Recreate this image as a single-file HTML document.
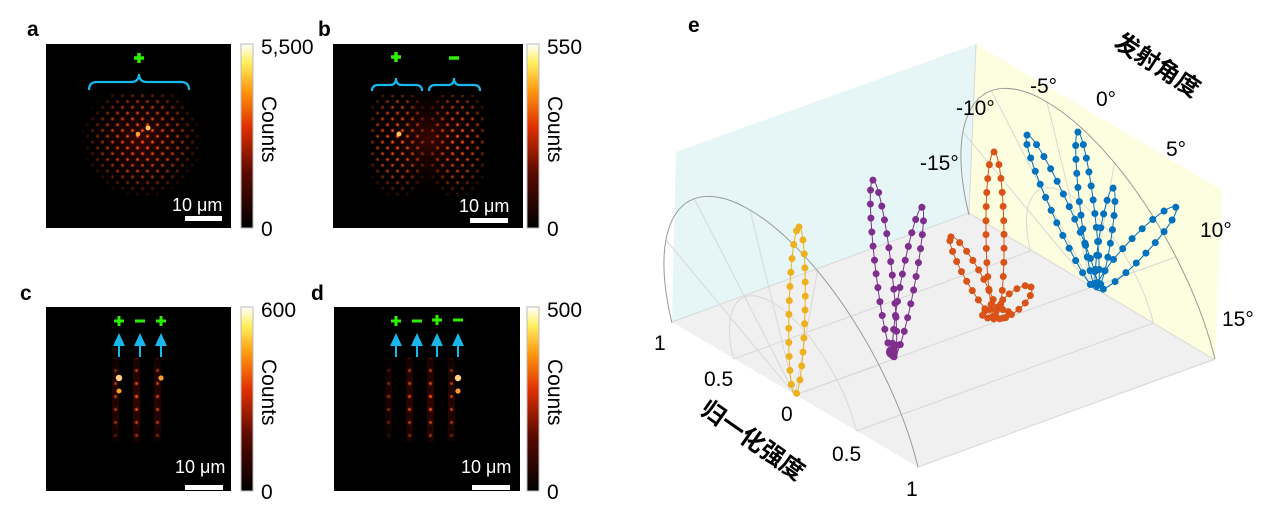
<!DOCTYPE html>
<html><head><meta charset="utf-8"><style>
html,body{margin:0;padding:0;background:#fff;}
svg{display:block;}
text{font-family:"Liberation Sans","Noto Sans CJK SC",sans-serif;}
</style></head><body>
<svg width="1269" height="524" viewBox="0 0 1269 524" xmlns="http://www.w3.org/2000/svg">
<defs>
  <linearGradient id="cb" x1="0" y1="1" x2="0" y2="0">
    <stop offset="0" stop-color="#000"/>
    <stop offset="0.3" stop-color="#5a0a00"/>
    <stop offset="0.55" stop-color="#e03000"/>
    <stop offset="0.75" stop-color="#ff9a10"/>
    <stop offset="0.9" stop-color="#fff060"/>
    <stop offset="1" stop-color="#fff"/>
  </linearGradient>
  <radialGradient id="dot"><stop offset="0" stop-color="#ff9028"/><stop offset="0.5" stop-color="#c83008"/><stop offset="1" stop-color="#300" stop-opacity="0"/></radialGradient>
  <radialGradient id="glow"><stop offset="0" stop-color="#3a0600"/><stop offset="1" stop-color="#000" stop-opacity="0"/></radialGradient>
  <pattern id="hex" width="10" height="11.6" patternUnits="userSpaceOnUse">
    <circle cx="2.5" cy="2.9" r="2.6" fill="url(#dot)"/>
    <circle cx="7.5" cy="8.7" r="2.6" fill="url(#dot)"/>
  </pattern>
  <pattern id="col" width="21" height="13" patternUnits="userSpaceOnUse">
    <rect x="7" y="0" width="7" height="13" fill="#300500"/>
    <circle cx="10.5" cy="6.5" r="2.8" fill="url(#dot)"/>
  </pattern>
  <radialGradient id="fade"><stop offset="0" stop-color="#fff"/><stop offset="0.6" stop-color="#999"/><stop offset="1" stop-color="#000"/></radialGradient>
  <mask id="ma" maskContentUnits="userSpaceOnUse"><ellipse cx="142" cy="140" rx="62" ry="60" fill="url(#fade)"/></mask>
  <mask id="mb1" maskContentUnits="userSpaceOnUse"><ellipse cx="398" cy="140" rx="36" ry="62" fill="url(#fade)"/></mask>
  <mask id="mb2" maskContentUnits="userSpaceOnUse"><ellipse cx="457" cy="140" rx="36" ry="62" fill="url(#fade)"/></mask>
  <mask id="mc" maskContentUnits="userSpaceOnUse"><ellipse cx="140" cy="400" rx="50" ry="58" fill="url(#fade)"/></mask>
  <mask id="md" maskContentUnits="userSpaceOnUse"><ellipse cx="427" cy="400" rx="60" ry="58" fill="url(#fade)"/></mask>
</defs>

<!-- Panel a -->
<text x="27" y="36" font-size="21" font-weight="bold">a</text>
<rect x="46" y="44" width="185" height="184" fill="#000"/>
<ellipse cx="142" cy="140" rx="65" ry="60" fill="url(#glow)"/>
<rect x="80" y="92" width="125" height="112" fill="url(#hex)" mask="url(#ma)"/>
<circle cx="148" cy="128" r="2.5" fill="#ffc060"/><circle cx="138" cy="134" r="2.3" fill="#ffa040"/>
<path d="M89,90 q0,-8 8,-8 h34 q8,0 8,-8 q0,8 8,8 h34 q8,0 8,8" fill="none" stroke="#1ab8ea" stroke-width="2.2"/>
<path d="M139,53 v10 M134,58 h10" stroke="#2cf000" stroke-width="3.5"/>
<rect x="185" y="216" width="37" height="5" fill="#fff"/>
<text x="172" y="211" font-size="18" fill="#fff">10 μm</text>
<rect x="241" y="44" width="12" height="184" fill="url(#cb)" stroke="#bbb" stroke-width="1"/>
<text x="261" y="54" font-size="21">5,500</text>
<text x="261" y="236" font-size="21">0</text>
<text x="0" y="0" font-size="21" transform="translate(262,96) rotate(90)">Counts</text>

<!-- Panel b -->
<text x="318" y="36" font-size="21" font-weight="bold">b</text>
<rect x="333" y="44" width="190" height="184" fill="#000"/>
<ellipse cx="428" cy="140" rx="65" ry="62" fill="url(#glow)"/>
<rect x="370" y="95" width="55" height="108" fill="url(#hex)" mask="url(#mb1)"/>
<rect x="430" y="95" width="55" height="108" fill="url(#hex)" mask="url(#mb2)"/>
<circle cx="399" cy="134" r="2.5" fill="#ffc060"/>
<path d="M372,91 q0,-6 6,-6 h12 q6,0 6,-7 q0,7 6,7 h14 q6,0 6,6" fill="none" stroke="#1ab8ea" stroke-width="2.2"/>
<path d="M429,91 q0,-6 6,-6 h13 q6,0 6,-7 q0,7 6,7 h14 q6,0 6,6" fill="none" stroke="#1ab8ea" stroke-width="2.2"/>
<path d="M396,52 v10 M391,57 h10" stroke="#2cf000" stroke-width="3.5"/>
<path d="M449,58 h10" stroke="#2cf000" stroke-width="3.5"/>
<rect x="470" y="218" width="38" height="5" fill="#fff"/>
<text x="459" y="212" font-size="18" fill="#fff">10 μm</text>
<rect x="527" y="44" width="12" height="184" fill="url(#cb)" stroke="#bbb" stroke-width="1"/>
<text x="547" y="54" font-size="21">550</text>
<text x="547" y="236" font-size="21">0</text>
<text x="0" y="0" font-size="21" transform="translate(548,96) rotate(90)">Counts</text>

<!-- Panel c -->
<text x="20" y="300" font-size="21" font-weight="bold">c</text>
<rect x="46" y="307" width="185" height="184" fill="#000"/>
<rect x="108" y="358" width="63" height="84" fill="url(#col)" mask="url(#mc)"/>
<circle cx="119" cy="378" r="3.2" fill="#ffd080"/><circle cx="161" cy="378" r="2.6" fill="#ff9a30"/><circle cx="119" cy="391" r="2.5" fill="#ff9a30"/>
<path d="M114,321 h10 M119,316 v10" stroke="#2cf000" stroke-width="3"/>
<path d="M135,321 h10" stroke="#2cf000" stroke-width="3"/>
<path d="M156,321 h10 M161,316 v10" stroke="#2cf000" stroke-width="3"/>
<g fill="#1ab8ea" stroke="#1ab8ea">
<path d="M119,357 v-14" stroke-width="2"/><path d="M113,346 L119,333 L125,346 z" stroke="none"/>
<path d="M140,357 v-14" stroke-width="2"/><path d="M134,346 L140,333 L146,346 z" stroke="none"/>
<path d="M161,357 v-14" stroke-width="2"/><path d="M155,346 L161,333 L167,346 z" stroke="none"/>
</g>
<rect x="185" y="485" width="38" height="5" fill="#fff"/>
<text x="175" y="473" font-size="18" fill="#fff">10 μm</text>
<rect x="241" y="307" width="12" height="184" fill="url(#cb)" stroke="#bbb" stroke-width="1"/>
<text x="261" y="317" font-size="21">600</text>
<text x="261" y="499" font-size="21">0</text>
<text x="0" y="0" font-size="21" transform="translate(262,359) rotate(90)">Counts</text>

<!-- Panel d -->
<text x="311" y="300" font-size="21" font-weight="bold">d</text>
<rect x="334" y="307" width="186" height="184" fill="#000"/>
<rect x="385" y="358" width="84" height="84" fill="url(#col)" mask="url(#md)"/>
<circle cx="458" cy="378" r="3.2" fill="#ffd080"/><circle cx="458" cy="391" r="2.6" fill="#ff9a30"/>
<path d="M391,321 h10 M396,316 v10" stroke="#2cf000" stroke-width="3"/>
<path d="M412,321 h10" stroke="#2cf000" stroke-width="3"/>
<path d="M432,320 h10 M437,315 v10" stroke="#2cf000" stroke-width="3"/>
<path d="M453,320 h10" stroke="#2cf000" stroke-width="3"/>
<g fill="#1ab8ea" stroke="#1ab8ea">
<path d="M396,357 v-14" stroke-width="2"/><path d="M390,346 L396,333 L402,346 z" stroke="none"/>
<path d="M417,357 v-14" stroke-width="2"/><path d="M411,346 L417,333 L423,346 z" stroke="none"/>
<path d="M437,357 v-14" stroke-width="2"/><path d="M431,346 L437,333 L443,346 z" stroke="none"/>
<path d="M458,357 v-14" stroke-width="2"/><path d="M452,346 L458,333 L464,346 z" stroke="none"/>
</g>
<rect x="472" y="485" width="38" height="5" fill="#fff"/>
<text x="461" y="473" font-size="18" fill="#fff">10 μm</text>
<rect x="527" y="307" width="12" height="184" fill="url(#cb)" stroke="#bbb" stroke-width="1"/>
<text x="547" y="317" font-size="21">500</text>
<text x="547" y="499" font-size="21">0</text>
<text x="0" y="0" font-size="21" transform="translate(548,359) rotate(90)">Counts</text>

<!-- Panel e -->
<text x="688" y="32" font-size="21" font-weight="bold">e</text>
<polygon points="676,152 976,44 969,213 672,322" fill="#e6f6f6"/>
<polygon points="976,44 1222,190 1215,360 969,213" fill="#fdfde0"/>
<polygon points="672,322 969,213 1215,360 918,467" fill="#f0f0f0"/>
<g stroke="#d8d8d8" stroke-width="1" fill="none">
  <line x1="969" y1="213" x2="976" y2="44"/>
  <line x1="969" y1="213" x2="1215" y2="360"/>
  <line x1="672" y1="322" x2="969" y2="213"/>
  <line x1="795" y1="395" x2="1092" y2="287"/>
  <line x1="856.5" y1="431" x2="1153.5" y2="323"/>
  <line x1="733.5" y1="359" x2="1030.5" y2="251"/>
  <line x1="918" y1="467" x2="1215" y2="359"/>
  <path d="M795,395 L879,365 M795,395 L817.5,271 M795,395 L750,210 M795,395 L694.5,199 M795,395 L666,240"/>
  <path d="M733.5,359 C721,308 738.5,282.6 772.5,302.5 C806.5,322.4 844,380 856.5,431"/>
  <g transform="translate(297,-108)">
  <path d="M795,395 L879,365 M795,395 L817.5,271 M795,395 L750,210 M795,395 L694.5,199 M795,395 L666,240"/>
  <path d="M733.5,359 C721,308 738.5,282.6 772.5,302.5 C806.5,322.4 844,380 856.5,431"/>
  </g>
</g>
<g stroke="#999" stroke-width="1" fill="none">
  <path d="M672,323 C647,221 682,170 750,210 C818,250 893,365 918,467"/>
  <path transform="translate(297,-108)" d="M672,323 C647,221 682,170 750,210 C818,250 893,365 918,467"/>
</g>
<g fill="none" stroke-linecap="round">
  <g stroke="#edb120">
    <ellipse cx="797" cy="311" rx="84" ry="8" transform="rotate(-88.6 797 311)" stroke-width="1"/>
    <ellipse cx="797" cy="311" rx="84" ry="8" transform="rotate(-88.6 797 311)" stroke-width="7" stroke-dasharray="0 14"/>
  </g>
  <g stroke="#7e2f8e">
    <ellipse cx="883.5" cy="268.5" rx="89" ry="8" transform="rotate(-96.8 883.5 268.5)" stroke-width="1"/>
    <ellipse cx="883.5" cy="268.5" rx="89" ry="8" transform="rotate(-96.8 883.5 268.5)" stroke-width="7" stroke-dasharray="0 14"/>
    <ellipse cx="908" cy="282" rx="76" ry="7" transform="rotate(-79.4 908 282)" stroke-width="1"/>
    <ellipse cx="908" cy="282" rx="76" ry="7" transform="rotate(-79.4 908 282)" stroke-width="7" stroke-dasharray="0 14"/>
    <circle cx="892" cy="352" r="6" fill="#7e2f8e" stroke="none"/>
  </g>
  <g stroke="#d95319">
    <ellipse cx="995" cy="234.5" rx="82.5" ry="9" transform="rotate(-90.7 995 234.5)" stroke-width="1"/>
    <ellipse cx="995" cy="234.5" rx="82.5" ry="9" transform="rotate(-90.7 995 234.5)" stroke-width="7" stroke-dasharray="0 14"/>
    <ellipse cx="973.5" cy="277" rx="46" ry="8" transform="rotate(-119.4 973.5 277)" stroke-width="1"/>
    <ellipse cx="973.5" cy="277" rx="46" ry="8" transform="rotate(-119.4 973.5 277)" stroke-width="7" stroke-dasharray="0 11"/>
    <ellipse cx="1013.5" cy="302" rx="23" ry="9" transform="rotate(-40.6 1013.5 302)" stroke-width="1"/>
    <ellipse cx="1013.5" cy="302" rx="23" ry="9" transform="rotate(-40.6 1013.5 302)" stroke-width="7" stroke-dasharray="0 9"/>
    <ellipse cx="996" cy="314" rx="14" ry="5" stroke-width="7" stroke-dasharray="0 6"/>
  </g>
  <g stroke="#0072bd">
    <ellipse cx="1062" cy="212.5" rx="85" ry="9" transform="rotate(-114.3 1062 212.5)" stroke-width="1"/>
    <ellipse cx="1062" cy="212.5" rx="85" ry="9" transform="rotate(-114.3 1062 212.5)" stroke-width="7" stroke-dasharray="0 14"/>
    <ellipse cx="1087.5" cy="211" rx="79.5" ry="7" transform="rotate(-96.9 1087.5 211)" stroke-width="1"/>
    <ellipse cx="1087.5" cy="211" rx="79.5" ry="7" transform="rotate(-96.9 1087.5 211)" stroke-width="7" stroke-dasharray="0 14"/>
    <ellipse cx="1105" cy="239" rx="51.5" ry="6" transform="rotate(-81 1105 239)" stroke-width="1"/>
    <ellipse cx="1105" cy="239" rx="51.5" ry="6" transform="rotate(-81 1105 239)" stroke-width="7" stroke-dasharray="0 14"/>
    <ellipse cx="1136.5" cy="248.5" rx="57" ry="10" transform="rotate(-46.4 1136.5 248.5)" stroke-width="1"/>
    <ellipse cx="1136.5" cy="248.5" rx="57" ry="10" transform="rotate(-46.4 1136.5 248.5)" stroke-width="7" stroke-dasharray="0 14"/>
  </g>
</g>
<g font-size="21" fill="#000">
  <text x="956" y="115">-10°</text>
  <text x="1030" y="93">-5°</text>
  <text x="1096" y="106">0°</text>
  <text x="1166" y="156">5°</text>
  <text x="1200" y="237">10°</text>
  <text x="1222" y="326">15°</text>
  <text x="920" y="170">-15°</text>
  <text x="654" y="350">1</text>
  <text x="704" y="386">0.5</text>
  <text x="781" y="421">0</text>
  <text x="832" y="461">0.5</text>
  <text x="906" y="496">1</text>
</g>
<text x="0" y="0" font-size="24" font-weight="bold" text-anchor="middle" transform="translate(1153,72) rotate(33)">发射角度</text>
<text x="0" y="0" font-size="24" font-weight="bold" text-anchor="middle" transform="translate(748,447) rotate(35)">归一化强度</text>
</svg>
</body></html>
